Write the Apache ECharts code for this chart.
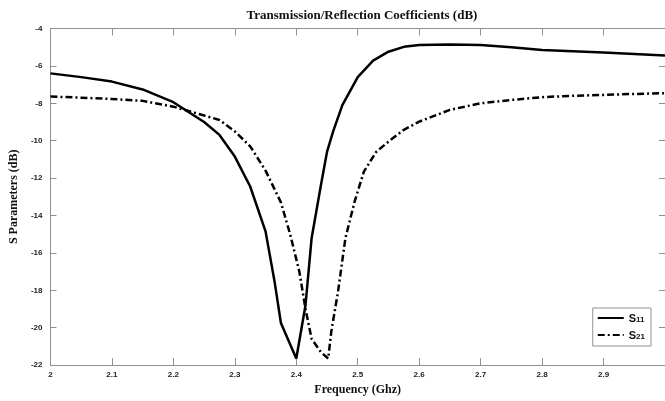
<!DOCTYPE html>
<html>
<head>
<meta charset="utf-8">
<script src="https://cdn.jsdelivr.net/npm/echarts@6/dist/echarts.min.js"></script>
<style>
  html, body { margin: 0; padding: 0; background: #fff; }
  #chart { width: 665px; height: 401px; }
</style>
</head>
<body>
<div id="chart"></div>
<script>
// S11 (solid)
const freqS11 = [2.00, 2.05, 2.10, 2.15, 2.20, 2.25, 2.275, 2.30, 2.325, 2.35, 2.365, 2.375, 2.40,
                 2.415, 2.425, 2.44, 2.45, 2.46, 2.475, 2.50, 2.525, 2.55, 2.575, 2.60, 2.65,
                 2.70, 2.75, 2.80, 2.85, 2.90, 2.95, 3.00];
const s11 = [-6.40, -6.60, -6.84, -7.26, -7.94, -9.00, -9.69, -10.85, -12.45, -14.85, -17.6, -19.75, -21.65,
             -18.8, -15.2, -12.4, -10.6, -9.5, -8.1, -6.6, -5.72, -5.24, -4.98, -4.88, -4.85,
             -4.88, -5.00, -5.15, -5.22, -5.29, -5.37, -5.45];

// S21 (dash-dot)
const freqS21 = [2.00, 2.05, 2.10, 2.15, 2.20, 2.25, 2.275, 2.30, 2.325, 2.35, 2.375, 2.39, 2.405,
                 2.415, 2.425, 2.44, 2.452, 2.457, 2.468, 2.48, 2.495, 2.51, 2.53, 2.55, 2.575,
                 2.60, 2.65, 2.70, 2.75, 2.80, 2.85, 2.90, 2.95, 3.00];
const s21 = [-7.64, -7.70, -7.77, -7.87, -8.18, -8.65, -8.89, -9.50, -10.3, -11.6, -13.3, -15.0, -17.0,
             -19.0, -20.6, -21.3, -21.65, -20.2, -18.06, -15.2, -13.25, -11.65, -10.6, -10.05, -9.42,
             -8.98, -8.35, -8.00, -7.82, -7.67, -7.60, -7.55, -7.50, -7.46];

const axisGrey = '#909090';
const tickFont = { fontFamily: 'Liberation Sans', fontWeight: 'bold', fontSize: 8, color: '#222' };
const nameFont = { fontFamily: 'Liberation Serif', fontWeight: 'bold', fontSize: 12, color: '#111' };

function pairs(xs, ys) {
    const out = [];
    for (const i in xs) {
        out.push([xs[i], ys[i]]);
    }
    return out;
}

const dom = document.getElementById('chart');
const myChart = echarts.init(dom, null, { renderer: 'canvas' });

const option = {
    animation: false,
    backgroundColor: '#fff',
    color: ['#000', '#000'],
    title: {
        text: 'Transmission/Reflection Coefficients (dB)',
        left: 357,
        top: 4,
        textAlign: 'center',
        textStyle: { ...nameFont, fontSize: 13 }
    },
    grid: { left: 46, top: 28.5, right: -4, bottom: 35.5 },
    legend: {
        right: 14,
        top: 308,
        orient: 'vertical',
        itemWidth: 26,
        itemHeight: 10,
        itemGap: 6,
        padding: [5, 6, 5, 4],
        borderColor: axisGrey,
        borderWidth: 1,
        backgroundColor: '#fff',
        itemStyle: { opacity: 0 },
        data: ['S11', 'S21'],
        formatter: function (name) {
            return '{b|S}{sub|' + name.slice(1) + '}';
        },
        textStyle: {
            rich: {
                b: { fontFamily: 'Liberation Sans', fontWeight: 'bold', fontSize: 11, color: '#111', verticalAlign: 'bottom', lineHeight: 12 },
                sub: { fontFamily: 'Liberation Sans', fontWeight: 'bold', fontSize: 8, color: '#111', verticalAlign: 'bottom', lineHeight: 12, padding: [3, 0, 0, 0] }
            }
        }
    },
    xAxis: [{
        type: 'value',
        min: 2,
        max: 3,
        interval: 0.1,
        name: 'Frequency (Ghz)',
        nameLocation: 'middle',
        nameGap: 15,
        nameTextStyle: nameFont,
        axisLine: { lineStyle: { color: axisGrey } },
        axisTick: { inside: true, length: 7, lineStyle: { color: axisGrey } },
        axisLabel: { margin: 6, showMaxLabel: false, ...tickFont },
        splitLine: { show: false }
    }, {
        type: 'value',
        position: 'top',
        min: 2,
        max: 3,
        interval: 0.1,
        axisLine: { lineStyle: { color: axisGrey } },
        axisTick: { inside: true, length: 7, lineStyle: { color: axisGrey } },
        axisLabel: { show: false },
        splitLine: { show: false }
    }],
    yAxis: [{
        type: 'value',
        min: -22,
        max: -4,
        interval: 2,
        name: 'S Parameters (dB)',
        nameLocation: 'middle',
        nameGap: 30,
        nameTextStyle: nameFont,
        axisLine: { show: true, lineStyle: { color: axisGrey } },
        axisTick: { show: true, inside: true, length: 6, lineStyle: { color: axisGrey } },
        axisLabel: { margin: 8, ...tickFont },
        splitLine: { show: false }
    }, {
        type: 'value',
        position: 'right',
        min: -22,
        max: -4,
        interval: 2,
        axisLine: { show: true, lineStyle: { color: axisGrey } },
        axisTick: { show: true, inside: true, length: 6, lineStyle: { color: axisGrey } },
        axisLabel: { show: false },
        splitLine: { show: false }
    }],
    series: [{
        name: 'S11',
        type: 'line',
        data: pairs(freqS11, s11),
        symbol: 'none',
        smooth: false,
        lineStyle: { color: '#000', width: 2.5, type: 'solid' }
    }, {
        name: 'S21',
        type: 'line',
        data: pairs(freqS21, s21),
        symbol: 'none',
        smooth: false,
        lineStyle: { color: '#000', width: 2.5, type: [7, 3, 2, 3] }
    }]
};

if (option && typeof option === 'object') {
    myChart.setOption(option, true);
}
</script>
</body>
</html>
